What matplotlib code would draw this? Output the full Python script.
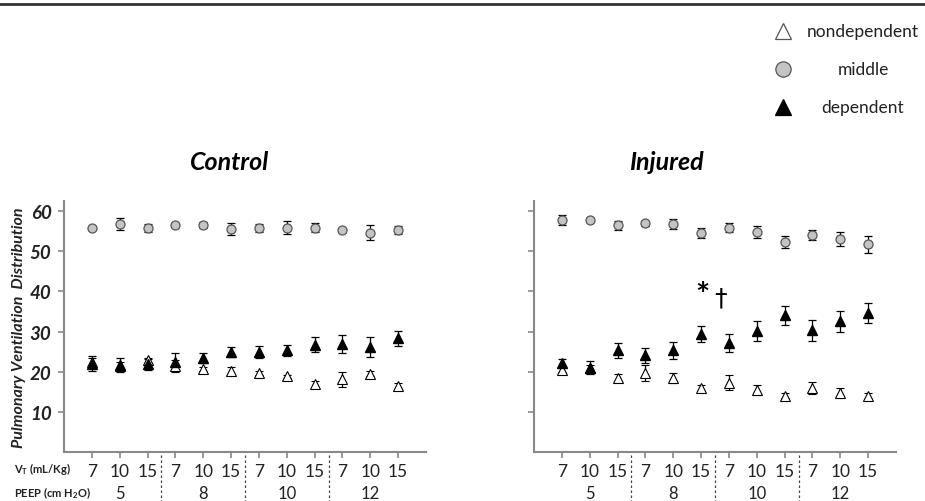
import numpy as np
import matplotlib.pyplot as plt
from matplotlib.transforms import blended_transform_factory

plt.rcParams['font.family'] = ['Lato', 'DejaVu Sans']

# x categories: tidal volume within each PEEP level
vt_labels = ["7", "10", "15"] * 4
peep_labels = ["5", "8", "10", "12"]

# Control
ctrl_mid = [55.7, 56.8, 55.7, 56.6, 56.5, 55.5, 55.7, 55.9, 55.9, 55.2, 54.6, 55.2]
ctrl_mid_err = [0.5, 1.5, 1.0, 0.5, 0.8, 1.4, 1.0, 1.5, 1.2, 0.3, 1.8, 1.0]
ctrl_non = [22.5, 21.5, 22.8, 21.5, 20.7, 20.1, 19.7, 18.8, 17.0, 18.1, 19.5, 16.5]
ctrl_non_err = [1.0, 1.0, 0.6, 1.5, 0.5, 1.0, 0.5, 0.4, 0.8, 1.8, 0.6, 0.8]
ctrl_dep = [22.0, 21.6, 21.8, 22.4, 23.4, 24.9, 24.9, 25.3, 26.7, 26.9, 26.2, 28.3]
ctrl_dep_err = [1.8, 1.8, 1.3, 2.3, 1.3, 1.3, 1.6, 1.3, 1.9, 2.3, 2.5, 1.9]

# Injured
inj_mid = [57.8, 57.8, 56.4, 56.9, 56.7, 54.5, 55.9, 54.8, 52.3, 54.0, 53.1, 51.7]
inj_mid_err = [1.3, 0.5, 1.0, 0.6, 1.2, 1.2, 1.2, 1.5, 1.6, 1.2, 1.8, 2.1]
inj_non = [20.3, 20.8, 18.5, 19.6, 18.5, 16.0, 17.3, 15.5, 14.0, 16.0, 14.7, 13.9]
inj_non_err = [0.5, 0.8, 1.0, 2.0, 1.2, 0.8, 1.8, 1.2, 0.6, 1.5, 1.2, 0.8]
inj_dep = [22.2, 21.0, 25.3, 24.1, 25.3, 29.4, 27.2, 30.1, 34.0, 30.3, 32.6, 34.6]
inj_dep_err = [1.0, 1.6, 1.9, 1.9, 2.2, 2.0, 2.2, 2.5, 2.4, 2.6, 2.6, 2.5]

x = np.arange(1, 13)
W, H = 925, 502

fig = plt.figure(figsize=(9.25, 5.02), dpi=100)

# top rule
fig.add_artist(plt.Line2D([0, 1], [1 - 5 / H, 1 - 5 / H], color="#333333", lw=2))

ax_l = fig.add_axes([64 / W, 1 - 453 / H, 362 / W, 251 / H])
ax_r = fig.add_axes([534 / W, 1 - 453 / H, 362 / W, 251 / H])

panels = [
    (ax_l, ctrl_mid, ctrl_mid_err, ctrl_non, ctrl_non_err, ctrl_dep, ctrl_dep_err),
    (ax_r, inj_mid, inj_mid_err, inj_non, inj_non_err, inj_dep, inj_dep_err),
]

err_kw = dict(ecolor="black", elinewidth=0.9, capsize=3, capthick=0.9, linestyle="none")

for ax, mid, mid_e, non, non_e, dep, dep_e in panels:
    ax.errorbar(x, mid, yerr=mid_e, marker="o", ms=6.5, mfc="#c4c4c4", mec="#555555", mew=0.9, **err_kw)
    ax.errorbar(x, non, yerr=non_e, marker="^", ms=6.5, mfc="white", mec="black", mew=0.8, **err_kw)
    ax.errorbar(x, dep, yerr=dep_e, marker="^", ms=6.5, mfc="black", mec="black", **err_kw)

    ax.set_xlim(0, 13)
    ax.set_ylim(0, 62.5)
    for s in ["top", "right"]:
        ax.spines[s].set_visible(False)
    for s in ["left", "bottom"]:
        ax.spines[s].set_color("#888888")
        ax.spines[s].set_linewidth(1.5)
    ax.tick_params(colors="#888888", length=4, width=1.2)

    ax.set_xticks(x)
    ax.set_xticklabels(vt_labels, fontsize=12.5, color="#222222")
    ax.tick_params(axis="x", pad=4)
    ax.set_yticks([10, 20, 30, 40, 50, 60])

    trans = blended_transform_factory(ax.transData, ax.transAxes)
    for i, lab in enumerate(peep_labels):
        ax.text(2 + 3 * i, -0.162, lab, transform=trans, ha="center", va="center",
                fontsize=12, color="#222222")
    for xs in [3.5, 6.5, 9.5]:
        ax.plot([xs, xs], [-0.01, -0.2], transform=trans, clip_on=False,
                color="#444444", lw=0.9, ls=(0, (2, 2)))

ax_l.set_yticklabels(["10", "20", "30", "40", "50", "60"], fontsize=13.5,
                     fontweight="bold", fontstyle="italic", color="#222222")
ax_l.tick_params(axis="y", pad=5)
ax_r.set_yticklabels([])

ax_l.set_ylabel("Pulmonary Ventilation  Distribution", fontsize=11.5, fontweight="bold",
                fontstyle="italic", color="#222222")
ax_l.yaxis.set_label_coords(-0.105, 0.5)

# row labels under the left panel
fig.text(14 / W, 1 - 469 / H, "V$_\\mathregular{T}$ (mL/Kg)", fontsize=8, fontweight="bold",
         ha="left", va="center", color="#222222")
fig.text(14 / W, 1 - 493 / H, "PEEP (cm H$_\\mathregular{2}$O)", fontsize=8, fontweight="bold",
         ha="left", va="center", color="#222222")

# panel titles
fig.text(230 / W, 1 - 163 / H, "Control", fontsize=18, fontweight="bold", fontstyle="italic",
         ha="center", va="center")
fig.text(666 / W, 1 - 163 / H, "Injured", fontsize=18, fontweight="bold", fontstyle="italic",
         ha="center", va="center")

# significance marks
ax_r.text(6.05, 39.0, "*", fontsize=24, fontweight="bold", ha="center", va="center")
ax_r.text(6.7, 38.5, "\u2020", fontsize=18, ha="center", va="center", family="DejaVu Sans")

# legend
leg_items = [
    ("nondependent", "^", "white", "#555555"),
    ("middle", "o", "#c4c4c4", "#555555"),
    ("dependent", "^", "black", "black"),
]
for i, (lab, m, fc, ec) in enumerate(leg_items):
    yy = 1 - (32 + 38 * i) / H
    fig.add_artist(plt.Line2D([783 / W], [yy], marker=m, ms=11, mfc=fc, mec=ec, mew=0.9,
                              linestyle="none"))
    fig.text(863 / W, yy, lab, fontsize=12.5, ha="center", va="center", color="#222222")

fig.savefig("out.png", dpi=100)
